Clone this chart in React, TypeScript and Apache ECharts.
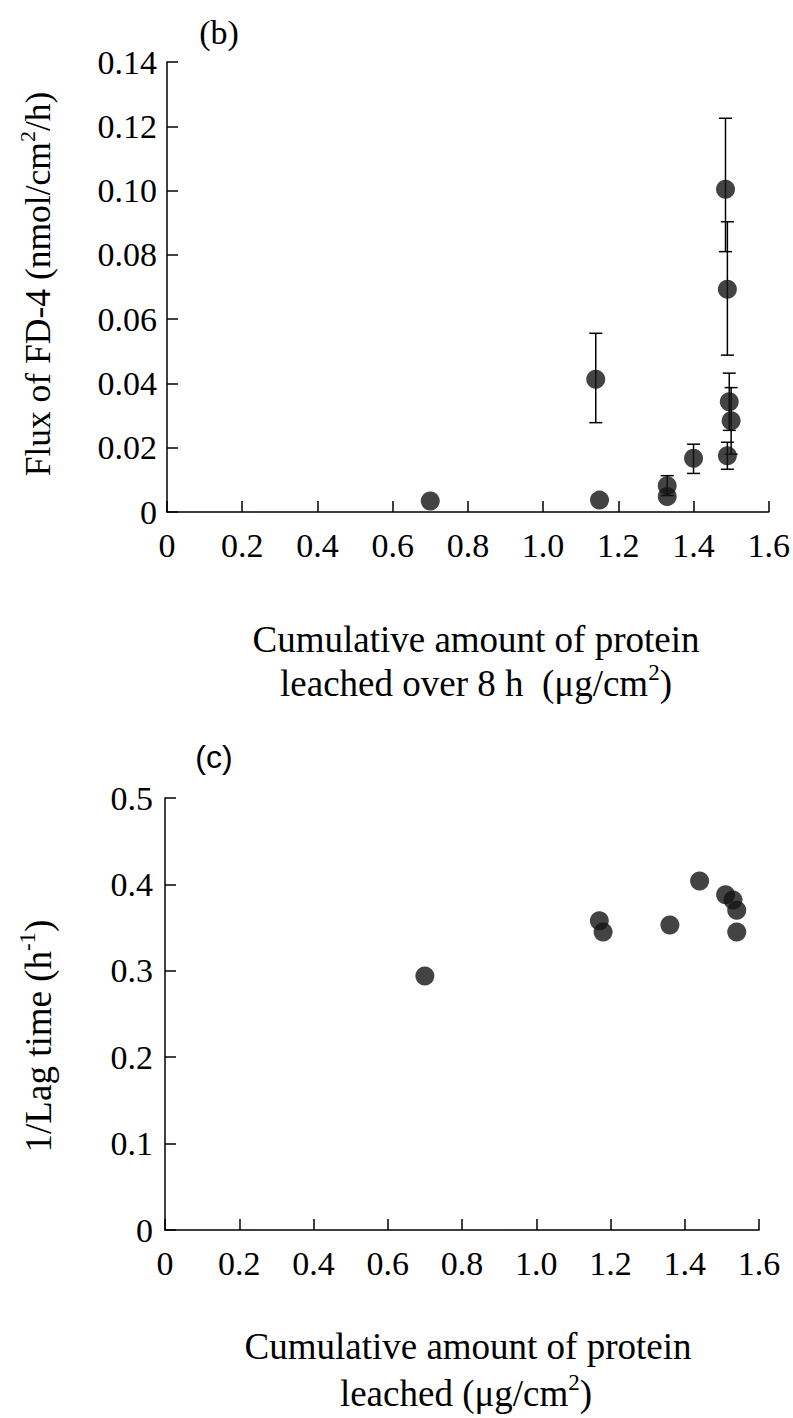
import React, { useEffect, useRef } from "react";
import * as echarts from "echarts";

// ---- Panel (b): flux of FD-4 vs cumulative protein leached over 8 h ----
const fluxX = [0.70, 1.14, 1.15, 1.33, 1.33, 1.40, 1.485, 1.49, 1.495, 1.50, 1.49];
const fluxY = [0.0034, 0.0413, 0.0037, 0.0082, 0.0048, 0.0167, 0.1004, 0.0693, 0.0343, 0.0284, 0.0175];
// error bars (x, low, high) for the points that show them
const errX = [1.14, 1.33, 1.40, 1.485, 1.49, 1.495, 1.50, 1.49];
const errLow = [0.0278, 0.0051, 0.0120, 0.0810, 0.0488, 0.0254, 0.0180, 0.0133];
const errHigh = [0.0556, 0.0113, 0.0211, 0.1225, 0.0903, 0.0432, 0.0387, 0.0217];

// ---- Panel (c): 1/lag time vs cumulative protein leached ----
const lagX = [0.70, 1.17, 1.18, 1.36, 1.44, 1.51, 1.53, 1.54, 1.54];
const lagY = [0.294, 0.358, 0.345, 0.353, 0.404, 0.388, 0.382, 0.370, 0.345];

const xTicks = { min: 0, max: 1.6, interval: 0.2 };
const fluxTicks = { min: 0, max: 0.14, interval: 0.02 };
const lagTicks = { min: 0, max: 0.5, interval: 0.1 };

const SERIF = '"Liberation Serif", "Times New Roman", serif';
const SANS = '"Liberation Sans", Arial, sans-serif';
const FS = 34;

export default function App() {
  const ref = useRef<HTMLDivElement>(null);
  useEffect(() => {
    if (!ref.current) return;
    const chart = echarts.init(ref.current, null, { renderer: "svg" });
    const axisLine = { show: true, onZero: false, lineStyle: { color: "#000", width: 1.5 } };
    const axisTick = { show: true, inside: true, length: 11, lineStyle: { color: "#000", width: 1.5 } };
    const lbl = (dec: number, margin: number) => ({
      fontFamily: SERIF,
      fontSize: FS,
      color: "#000",
      margin,
      formatter: (v: number) => (Math.abs(v) < 1e-9 ? "0" : v.toFixed(dec)),
    });
    const xAxisFor = (gi: number) => ({
      gridIndex: gi,
      type: "value",
      ...xTicks,
      axisLine,
      axisTick,
      axisLabel: lbl(1, 16),
      splitLine: { show: false },
    });
    const errData = errX.map((x, i) => [x, errLow[i], errHigh[i]]);
    const mkBase = (fs: number) => ({ fontFamily: SERIF, fontSize: fs, color: "#000", lineHeight: Math.round(fs * 1.2) });
    const mkSup = (fs: number) => ({ fontFamily: SERIF, fontSize: Math.round(fs * 0.62), verticalAlign: "top", color: "#000" });
    const txt = (x: number, y: number, text: string, fs: number, rot = 0) => ({
      type: "text",
      x,
      y,
      rotation: rot,
      style: {
        text,
        rich: { sup: mkSup(fs) },
        ...mkBase(fs),
        fill: "#000",
        align: "center",
        verticalAlign: "middle",
      },
    });

    chart.setOption({
      animation: false,
      grid: [
        { left: 167, top: 62, width: 609, height: 450 },
        { left: 165, top: 798, width: 594, height: 432 },
      ],
      xAxis: [xAxisFor(0), xAxisFor(1)],
      yAxis: [
        {
          gridIndex: 0,
          type: "value",
          ...fluxTicks,
          axisLine,
          axisTick,
          axisLabel: lbl(2, 10),
          splitLine: { show: false },
        },
        {
          gridIndex: 1,
          type: "value",
          ...lagTicks,
          axisLine,
          axisTick,
          axisLabel: lbl(1, 12),
          splitLine: { show: false },
        },
      ],
      series: [
        {
          type: "custom",
          xAxisIndex: 0,
          yAxisIndex: 0,
          z: 1,
          data: errData,
          encode: { x: 0, y: [1, 2] },
          renderItem: (params: any, api: any) => {
            const x = api.value(0);
            const lo = api.coord([x, api.value(1)]);
            const hi = api.coord([x, api.value(2)]);
            const w = 6.5;
            const st = { stroke: "#000", lineWidth: 1.5 };
            return {
              type: "group",
              children: [
                { type: "line", shape: { x1: lo[0], y1: lo[1], x2: hi[0], y2: hi[1] }, style: st },
                { type: "line", shape: { x1: hi[0] - w, y1: hi[1], x2: hi[0] + w, y2: hi[1] }, style: st },
                { type: "line", shape: { x1: lo[0] - w, y1: lo[1], x2: lo[0] + w, y2: lo[1] }, style: st },
              ],
            };
          },
        },
        {
          type: "scatter",
          xAxisIndex: 0,
          yAxisIndex: 0,
          z: 3,
          symbol: "circle",
          symbolSize: 19,
          itemStyle: { color: "#141414" },
          data: fluxX.map((x, i) => [x, fluxY[i]]),
        },
        {
          type: "scatter",
          xAxisIndex: 1,
          yAxisIndex: 1,
          z: 3,
          symbol: "circle",
          symbolSize: 19,
          itemStyle: { color: "#141414" },
          data: lagX.map((x, i) => [x, lagY[i]]),
        },
      ],
      graphic: [
        {
          type: "text",
          x: 219,
          y: 32,
          style: { text: "(b)", font: `${FS}px ${SERIF}`, fill: "#000", align: "center", verticalAlign: "middle" },
        },
        {
          type: "text",
          x: 214,
          y: 757,
          style: { text: "(c)", font: `32px ${SANS}`, fill: "#000", align: "center", verticalAlign: "middle" },
        },
        txt(38, 284, "Flux of FD-4 (nmol/cm{sup|2}/h)", 35.5, Math.PI / 2),
        txt(38, 1036, "1/Lag time (h{sup|-1})", 37, Math.PI / 2),
        txt(476, 639, "Cumulative amount of protein", 37),
        txt(476, 683, "leached over 8 h  (μg/cm{sup|2})", 37),
        txt(468, 1346, "Cumulative amount of protein", 37),
        txt(466, 1393, "leached (μg/cm{sup|2})", 37),
      ],
    });
    return () => chart.dispose();
  }, []);
  return (
    <div
      ref={ref}
      style={{ position: "absolute", left: 0, top: 0, width: 793, height: 1418, background: "#fff" }}
    />
  );
}
